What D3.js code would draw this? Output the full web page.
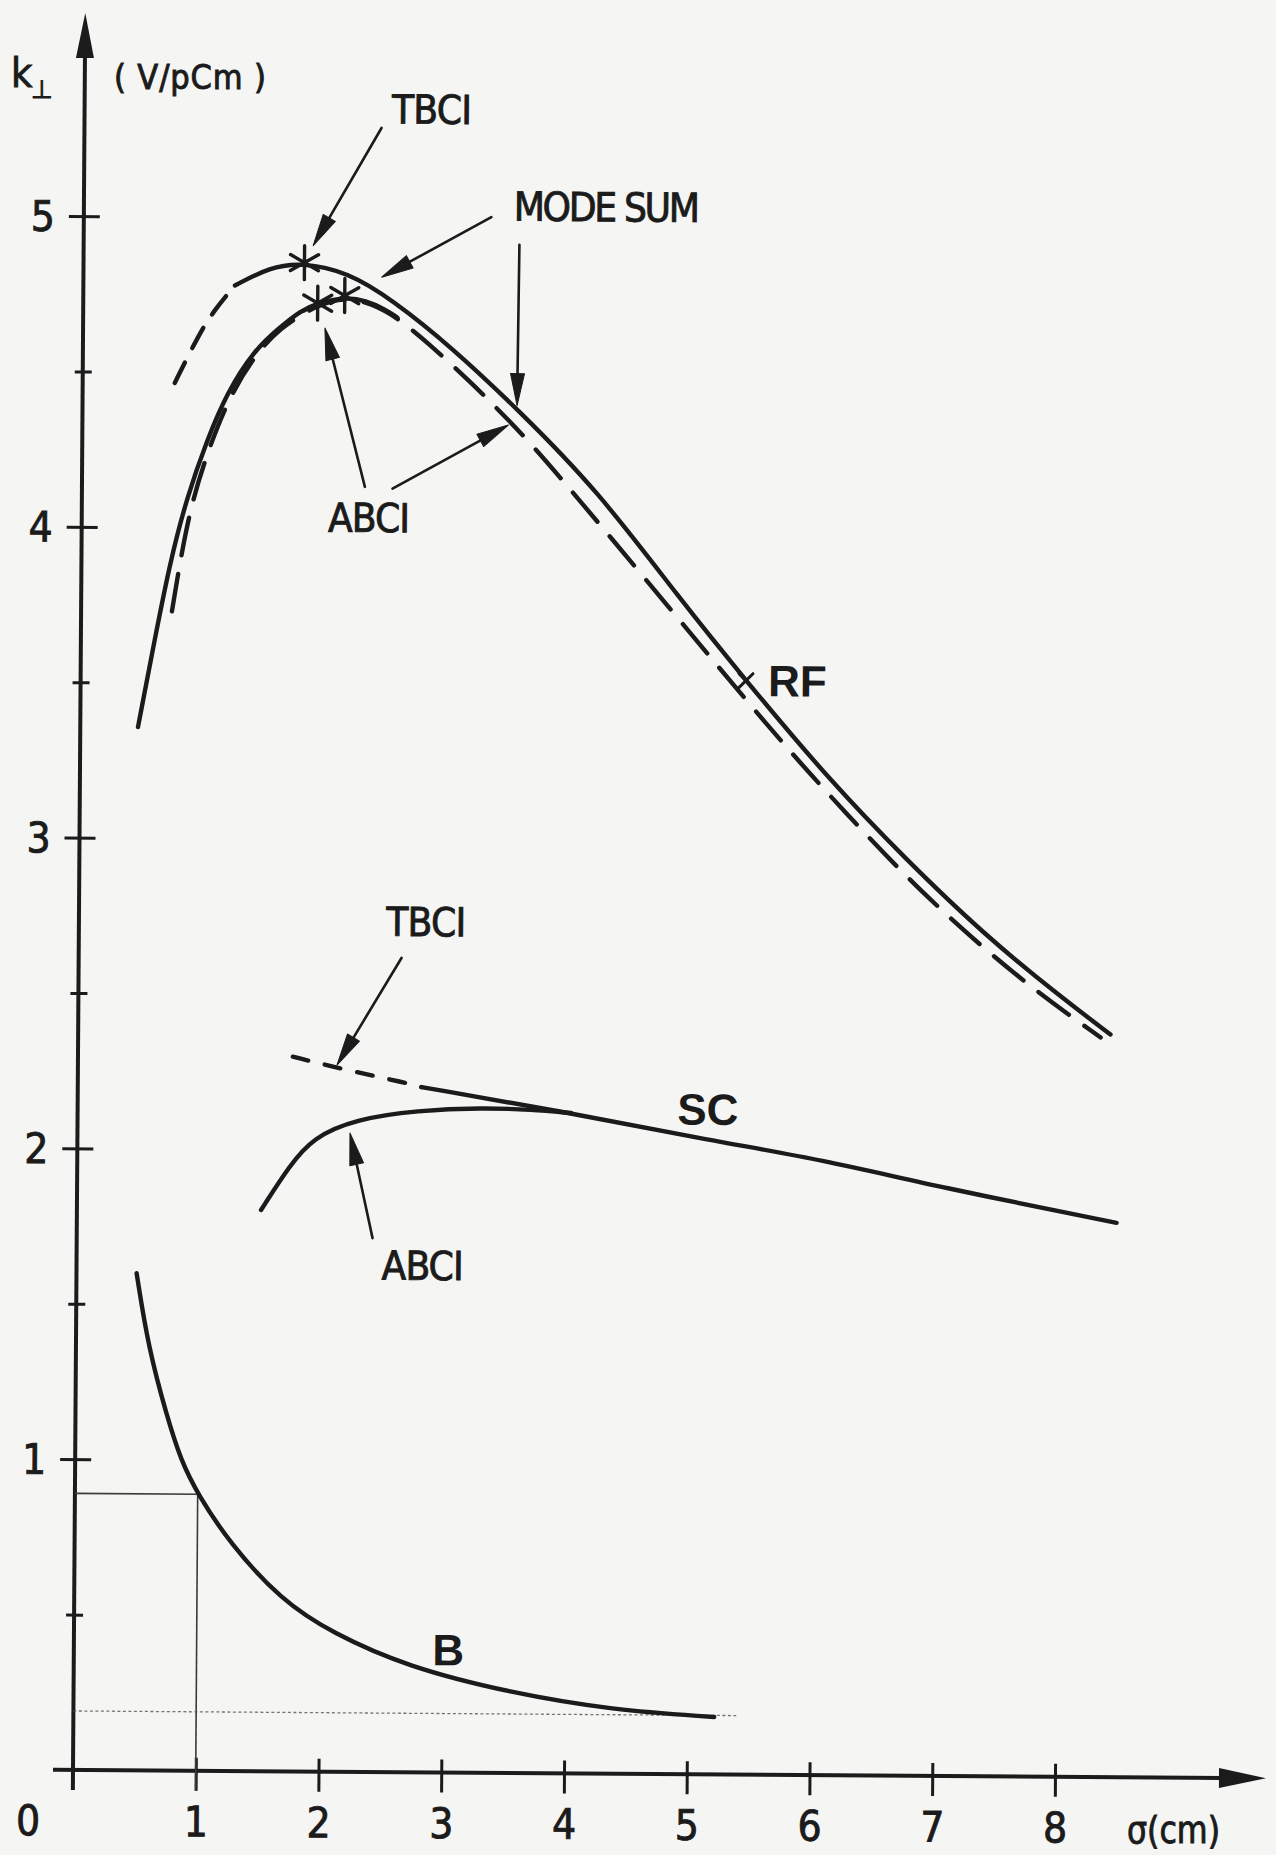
<!DOCTYPE html>
<html>
<head>
<meta charset="utf-8">
<script src="https://cdn.jsdelivr.net/npm/d3@7"></script>
<style>
  html, body { margin: 0; padding: 0; background: #f5f5f3; }
  svg { display: block; }
</style>
</head>
<body>
<script>
// Transverse kick factor k⊥ (V/pCm) versus bunch length σ (cm)
// for the RF cavity, the superconducting cavity (SC) and the bellows (B).

// ---- axis ticks ----
const xTicks = [0, 1, 2, 3, 4, 5, 6, 7, 8];
const yMajor = [1, 2, 3, 4, 5];
const yMinor = [0.5, 1.5, 2.5, 3.5, 4.5];

// ---- RF cavity ----
const rfModeSum = [[1.235,4.78],[1.52,4.84],[1.78,4.855],[2.15,4.826],[2.52,4.737],[3.01,4.584],[3.54,4.39],[4.20,4.13],[4.88,3.78],[5.42,3.52],[6.11,3.20],[6.73,2.95],[7.37,2.71],[8.0,2.51],[8.41,2.39]];
const rfTbci = [[0.75,4.465],[0.95,4.627],[1.07,4.701],[1.235,4.78]];
const rfLowBranch = [[0.47,3.357],[0.59,3.615],[0.72,3.886],[0.856,4.098],[1.016,4.282],[1.176,4.434],[1.39,4.57],[1.6,4.645],[1.77,4.70],[1.91,4.725],[2.13,4.745],[2.3,4.735],[2.47,4.705],[2.56,4.68]];
const rfAbci = [[0.74,3.73],[0.86,4.03],[1.0,4.22],[1.18,4.41],[1.39,4.55],[1.6,4.645],[1.91,4.72],[2.13,4.745],[2.35,4.725],[2.56,4.68],[2.81,4.6],[3.16,4.475],[3.48,4.35],[3.77,4.23],[4.82,3.74],[5.65,3.35],[6.23,3.10],[6.90,2.825],[7.68,2.56],[8.33,2.38]];
const rfTbciPoints = [[1.80,4.855]];
const rfAbciPoints = [[1.91,4.725],[2.13,4.75]];
const rfMarker = [[5.42,3.52]];

// ---- superconducting cavity ----
const scTbci = [[1.75,2.30],[2.19,2.258],[2.68,2.218],[2.80,2.205]];
const scModeSum = [[2.80,2.205],[4.02,2.125],[5.15,2.04],[6.08,1.98],[7.02,1.895],[8.47,1.784]];
const scAbci = [[1.50,1.806],[1.73,1.95],[1.92,2.04],[2.26,2.10],[2.77,2.13],[3.30,2.14],[3.70,2.135],[4.02,2.125]];

// ---- bellows ----
const bellows = [[0.49,1.60],[0.59,1.36],[0.745,1.14],[0.86,1.0],[1.0,0.89],[1.27,0.73],[1.685,0.552],[2.1,0.447],[2.72,0.339],[3.56,0.258],[4.39,0.205],[5.22,0.185]];
const bellowsRead = { sigma: 1.0, k: 0.89 };
const bellowsFloor = { k: 0.19, sigmaEnd: 5.4 };

// ---- annotations (data units) ----
const labels = [
  { text: "TBCI",     at: [2.83, 5.35],  kind: "plain", len: 80 },
  { text: "MODE SUM", at: [4.26, 5.04],  kind: "plain", len: 186 },
  { text: "ABCI",     at: [2.34, 4.035], kind: "plain", len: 82 },
  { text: "TBCI",     at: [2.83, 2.736], kind: "plain", len: 80 },
  { text: "ABCI",     at: [2.82, 1.63],  kind: "plain", len: 82 },
  { text: "RF",       at: [5.84, 3.52],  kind: "bold" },
  { text: "SC",       at: [5.135, 2.14], kind: "bold" },
  { text: "B",        at: [3.05, 0.395], kind: "bold" }
];
const arrows = [
  { from: [2.42, 5.29],  to: [1.87, 4.91] },
  { from: [3.32, 5.006], to: [2.43, 4.81] },
  { from: [3.55, 4.917], to: [3.54, 4.40] },
  { from: [2.305, 4.135], to: [1.97, 4.645] },
  { from: [2.53, 4.13],  to: [3.47, 4.337] },
  { from: [2.63, 2.62],  to: [2.11, 2.274] },
  { from: [2.41, 1.718], to: [2.22, 2.056] }
];

// ---- layout ----
const W = 1276, H = 1855;
const ink = "#1b1b1b";
const narrow = "'Liberation Sans Narrow', 'DejaVu Sans Condensed', sans-serif";
const bold = "'Liberation Sans', Arial, sans-serif";

const svg = d3.select("body").append("svg")
  .attr("width", W).attr("height", H)
  .attr("viewBox", `0 0 ${W} ${H}`);
svg.append("rect").attr("width", W).attr("height", H).attr("fill", "#f5f5f3");

// the sheet sits very slightly tilted
const g = svg.append("g").attr("transform", "translate(73,1770) rotate(0.4)");

const x = d3.scaleLinear().domain([0, 8]).range([0, 982]);
const y = d3.scaleLinear().domain([0, 5]).range([0, -1554]);

function inkText(sel, size) {
  return sel.style("font-family", narrow).style("font-size", size + "px")
    .attr("fill", ink).attr("stroke", ink).attr("stroke-width", 0.9);
}

// ---- axes ----
g.append("line").attr("x1", 0).attr("y1", 20).attr("x2", 0).attr("y2", -1716)
  .attr("stroke", ink).attr("stroke-width", 4);
g.append("path").attr("d", "M0,-1757 L-9,-1712 L9,-1712 Z").attr("fill", ink);
g.append("line").attr("x1", -20).attr("y1", 0).attr("x2", 1150).attr("y2", 0)
  .attr("stroke", ink).attr("stroke-width", 4);
g.append("path").attr("d", "M1193,0 L1146,-10 L1146,10 Z").attr("fill", ink);

const yAxis = d3.axisLeft(y).tickValues(yMajor.concat(yMinor)).tickSize(15)
  .tickFormat(d => Number.isInteger(d) ? String(d) : "");
const ya = g.append("g").call(yAxis);
ya.select(".domain").remove();
ya.selectAll(".tick line")
  .attr("x1", d => Number.isInteger(d) ? 16 : 9)
  .attr("x2", d => Number.isInteger(d) ? -15 : -8)
  .attr("stroke", ink).attr("stroke-width", 3);
inkText(ya.selectAll(".tick text"), 42)
  .attr("x", -41).attr("dy", null).attr("text-anchor", "middle")
  .attr("dominant-baseline", "central");

const xAxis = d3.axisBottom(x).tickValues(xTicks).tickSize(20).tickFormat(d => String(d));
const xa = g.append("g").call(xAxis);
xa.select(".domain").remove();
xa.selectAll(".tick line").attr("y1", -13).attr("y2", 20).attr("stroke", ink).attr("stroke-width", 3)
  .attr("display", d => d === 0 ? "none" : null);
inkText(xa.selectAll(".tick text"), 42)
  .attr("x", d => d === 0 ? -45 : 0)
  .attr("y", 51).attr("dy", null).attr("dominant-baseline", "central");

// axis titles
const kt = inkText(svg.append("text"), 41).attr("x", 11).attr("y", 87);
kt.append("tspan").text("k");
kt.append("tspan").attr("x", 31).attr("y", 98)
  .style("font-family", "'DejaVu Sans', sans-serif").style("font-size", "25px").text("⊥");
inkText(svg.append("text"), 34).attr("x", 114).attr("y", 89)
  .attr("textLength", 152).attr("lengthAdjust", "spacing")
  .text("( V/pCm )");
inkText(svg.append("text"), 38).attr("x", 1127).attr("y", 1843)
  .attr("textLength", 93).attr("lengthAdjust", "spacingAndGlyphs")
  .text("σ(cm)");

// ---- reading guides for the bellows ----
g.append("line").attr("x1", x(0)).attr("x2", x(bellowsRead.sigma))
  .attr("y1", y(bellowsRead.k)).attr("y2", y(bellowsRead.k))
  .attr("stroke", "#3a3a3a").attr("stroke-width", 1.6);
g.append("line").attr("x1", x(bellowsRead.sigma)).attr("x2", x(bellowsRead.sigma))
  .attr("y1", y(bellowsRead.k)).attr("y2", 20)
  .attr("stroke", "#3a3a3a").attr("stroke-width", 1.6);
g.append("line").attr("x1", x(0)).attr("x2", x(bellowsFloor.sigmaEnd))
  .attr("y1", y(bellowsFloor.k)).attr("y2", y(bellowsFloor.k))
  .attr("stroke", "#555").attr("stroke-width", 1.3).attr("stroke-dasharray", "3,2.5")
  .attr("opacity", 0.8);

// ---- curves ----
const line = d3.line().x(d => x(d[0])).y(d => y(d[1])).curve(d3.curveBasis);
function curve(data, dash, width) {
  g.append("path").datum(data).attr("d", line)
    .attr("fill", "none").attr("stroke", ink).attr("stroke-width", width || 4.4)
    .attr("stroke-linecap", "round").attr("stroke-linejoin", "round")
    .attr("stroke-dasharray", dash || null);
}
curve(rfModeSum);
curve(rfTbci, "23,16");
curve(rfLowBranch);
curve(rfAbci, "38,19");
curve(scTbci, "16,17");
curve(scModeSum);
curve(scAbci);
curve(bellows);

// ---- computed points (asterisks) ----
function star(p) {
  const cx = x(p[0]), cy = y(p[1]);
  g.append("path")
    .attr("d", `M${cx},${cy - 17}L${cx},${cy + 17}M${cx - 14},${cy - 8}L${cx + 14},${cy + 8}M${cx - 14},${cy + 8}L${cx + 14},${cy - 8}`)
    .attr("stroke", ink).attr("stroke-width", 3.4).attr("stroke-linecap", "round").attr("fill", "none");
}
rfTbciPoints.forEach(star);
rfAbciPoints.forEach(star);
rfMarker.forEach(p => {
  const cx = x(p[0]), cy = y(p[1]);
  g.append("path").attr("d", `M${cx - 7},${cy - 7}L${cx + 7},${cy + 7}M${cx - 7},${cy + 7}L${cx + 7},${cy - 7}`)
    .attr("stroke", ink).attr("stroke-width", 3).attr("stroke-linecap", "round");
});

// ---- arrows ----
arrows.forEach(a => {
  const x1 = x(a.from[0]), y1 = y(a.from[1]), x2 = x(a.to[0]), y2 = y(a.to[1]);
  const len = Math.hypot(x2 - x1, y2 - y1), ux = (x2 - x1) / len, uy = (y2 - y1) / len;
  const L = 32, hw = 7;
  const bx = x2 - L * ux, by = y2 - L * uy;
  g.append("line").attr("x1", x1).attr("y1", y1).attr("x2", bx + 4 * ux).attr("y2", by + 4 * uy)
    .attr("stroke", ink).attr("stroke-width", 2.6).attr("stroke-linecap", "round");
  g.append("path")
    .attr("d", `M${x2},${y2}L${bx - hw * uy},${by + hw * ux}L${bx + hw * uy},${by - hw * ux}Z`)
    .attr("fill", ink).attr("stroke", ink).attr("stroke-width", 1).attr("stroke-linejoin", "round");
});

// ---- labels ----
labels.forEach(l => {
  const t = g.append("text").attr("x", x(l.at[0])).attr("y", y(l.at[1]))
    .attr("text-anchor", "middle").attr("dominant-baseline", "central")
    .attr("fill", ink).text(l.text);
  if (l.kind === "bold") {
    t.style("font-family", bold).style("font-weight", "bold").style("font-size", "44px");
  } else {
    inkText(t, 40).attr("textLength", l.len).attr("lengthAdjust", "spacing");
  }
});
</script>
</body>
</html>
